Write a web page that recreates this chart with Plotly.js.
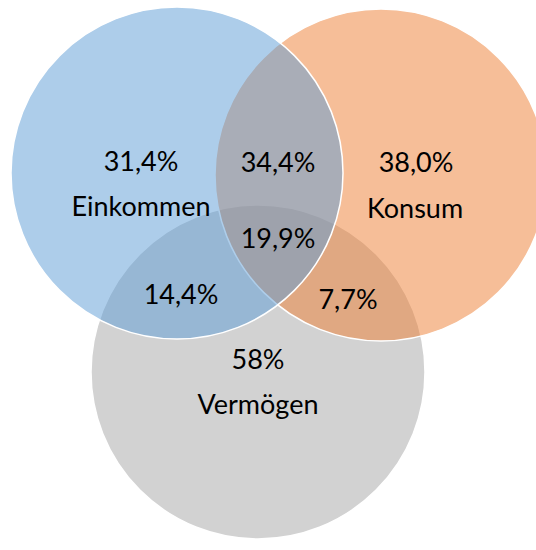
<!DOCTYPE html>
<html>
<head>
<meta charset="utf-8">
<script src="https://cdn.plot.ly/plotly-3.0.1.min.js"></script>
<style>html,body{margin:0;padding:0;background:#fff;}#chart{width:536px;height:550px;}</style>
</head>
<body>
<div id="chart"></div>
<script>
// Data
const setNames = ['Einkommen', 'Konsum', 'Vermögen'];
const setColors = ['rgba(91,155,213,0.5)', 'rgba(237,125,49,0.5)', 'rgba(165,165,165,0.5)'];
const regionNames = ['Einkommen nur', 'Konsum nur', 'Vermögen nur', 'Einkommen ∩ Konsum', 'Einkommen ∩ Vermögen', 'Konsum ∩ Vermögen', 'alle drei'];
const regionValues = ['31,4%', '38,0%', '58%', '34,4%', '14,4%', '7,7%', '19,9%'];

// Layout (pixel coordinates in a 536x550 frame)
const circleCx = [177, 381, 258];
const circleCy = [173, 175, 372];
const circleR = [166, 166, 167];
const valueX = [141, 416, 258, 278, 181, 348, 278];
const valueY = [164, 165, 362, 165, 297, 302, 241];
const nameX = [141, 415, 258];
const nameY = [209, 211, 407];

const drawOrder = [2, 1, 0];
const shapes = drawOrder.map(i => ({
  type: 'circle', xref: 'x', yref: 'y', layer: 'below',
  x0: circleCx[i] - circleR[i], x1: circleCx[i] + circleR[i],
  y0: circleCy[i] - circleR[i], y1: circleCy[i] + circleR[i],
  fillcolor: setColors[i],
  line: {color: '#ffffff', width: 1.5}
}));

const font = {family: 'Lato, "Open Sans", sans-serif', size: 27, color: '#000000'};
const traces = [
  {type: 'scatter', mode: 'text', x: valueX, y: valueY, text: regionValues,
   textposition: 'middle center', textfont: font, hoverinfo: 'none', showlegend: false},
  {type: 'scatter', mode: 'text', x: nameX, y: nameY, text: setNames,
   textposition: 'middle center', textfont: font, hoverinfo: 'none', showlegend: false}
];

const layout = {
  width: 536, height: 550,
  margin: {l: 0, r: 0, t: 0, b: 0},
  paper_bgcolor: '#ffffff', plot_bgcolor: '#ffffff',
  xaxis: {range: [0, 536], visible: false, fixedrange: true},
  yaxis: {range: [550, 0], visible: false, fixedrange: true},
  shapes: shapes,
  showlegend: false
};
Plotly.newPlot('chart', traces, layout, {displayModeBar: false, staticPlot: true});
</script>
</body>
</html>
